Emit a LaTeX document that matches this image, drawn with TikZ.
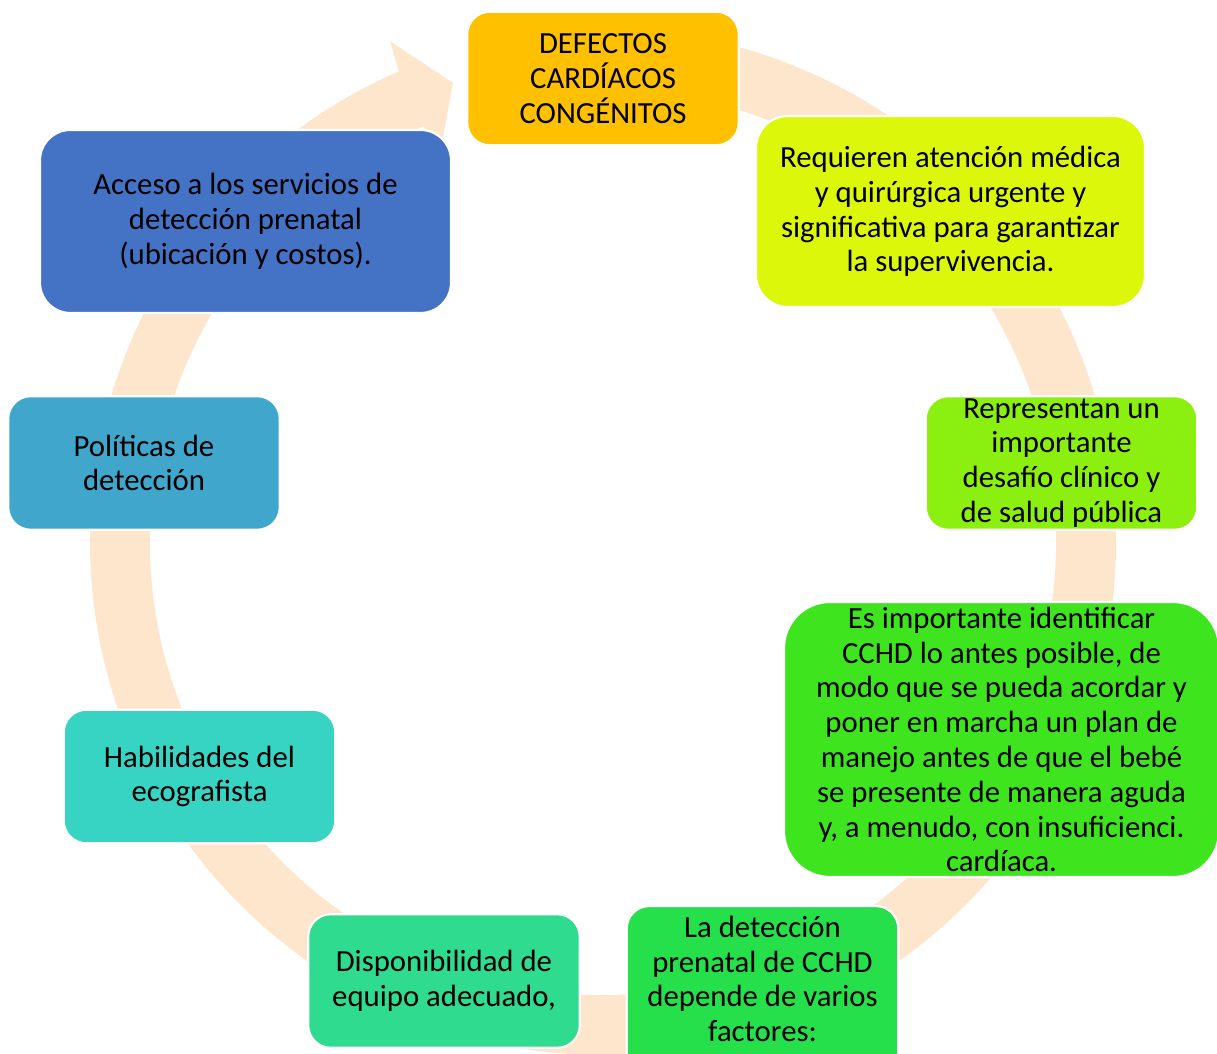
\documentclass[tikz,border=0pt]{standalone}
\usepackage{fontspec}
\setmainfont{Carlito}
\definecolor{ringpeach}{HTML}{FEE6CC}
\definecolor{cyellow}{HTML}{FFC000}
\definecolor{clime}{HTML}{DDF70B}
\definecolor{cyellowgreen}{HTML}{8BEF10}
\definecolor{cgreen}{HTML}{3EE51E}
\definecolor{cbrightgreen}{HTML}{25E04B}
\definecolor{cmint}{HTML}{2EDB8F}
\definecolor{cturquoise}{HTML}{37D4C4}
\definecolor{cskyblue}{HTML}{40A6CC}
\definecolor{cblue}{HTML}{4472C4}
\begin{document}
\begin{tikzpicture}[scale=1,
    box/.style={draw=white, line width=1.2pt, rounded corners=0.45cm, align=center,
      inner sep=0pt, minimum width=5.43cm, minimum height=2.67cm, text=black,
      font=\fontsize{17.5}{19.8}\selectfont}]
      \useasboundingbox (0,0) rectangle (24.34,21.08);
      \clip (0,0) rectangle (24.34,21.08);
      % ring with arrow head
      \coordinate (C) at (12.06,10.24);
      \begin{scope}[shift={(C)}]
        \fill[ringpeach] (95:10.26) arc[start angle=95, end angle=-246.54, radius=10.26]
          -- (-246.97:10.88) -- (-251.9:9.66) -- (-247.3:8.44) -- (-246.6:9.06)
          arc[start angle=-246.6, end angle=95, radius=9.06] -- cycle;
      \end{scope}
      % boxes
      \node[box, fill=cyellow] (defectos) at (12.06,19.51) {DEFECTOS\\CARDÍACOS\\CONGÉNITOS};
      \node[box, fill=clime, minimum width=7.78cm, minimum height=3.82cm, rounded corners=0.64cm]
        (requieren) at (19.01,16.85) {Requieren atención médica\\y quirúrgica urgente y\\significativa para garantizar\\la supervivencia.};
      \node[box, fill=cyellowgreen] (representan) at (21.23,11.82) {Representan un\\importante\\desafío clínico y\\de salud pública};
      \node[box, fill=cgreen, minimum width=8.7cm, minimum height=5.5cm, rounded corners=0.92cm]
        (identificar) at (20.03,6.29) {Es importante identificar\\CCHD lo antes posible, de\\modo que se pueda acordar y\\poner en marcha un plan de\\manejo antes de que el bebé\\se presente de manera aguda\\y, a menudo, con insuficienci.\\cardíaca.};
      \node[box, fill=cbrightgreen, minimum height=0pt, inner ysep=0.2cm, anchor=north]
        (deteccion) at (15.25,2.98) {La detección\\prenatal de CCHD\\depende de varios\\factores:\\~\\~};
      \node[box, fill=cmint] (equipo) at (8.88,1.46) {Disponibilidad de\\equipo adecuado,};
      \node[box, fill=cturquoise] (habilidades) at (3.99,5.55) {Habilidades del\\ecografista};
      \node[box, fill=cskyblue] (politicas) at (2.88,11.82) {Políticas de\\detección};
      \node[box, fill=cblue, minimum width=8.22cm, minimum height=3.66cm, rounded corners=0.61cm]
        (acceso) at (4.91,16.65) {Acceso a los servicios de\\detección prenatal\\(ubicación y costos).};
\end{tikzpicture}
\end{document}
